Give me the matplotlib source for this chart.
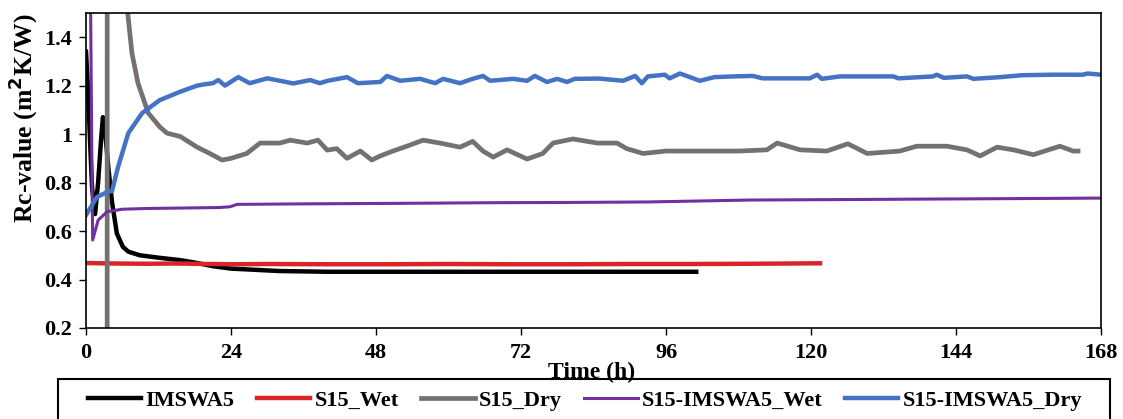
import numpy as np
import matplotlib.pyplot as plt
from matplotlib.patches import Rectangle

plt.rcParams['font.family'] = ['Liberation Serif', 'DejaVu Serif']
plt.rcParams['font.weight'] = 'bold'

### Données (temps en h, Rc en m2K/W)
t_imswa5 = [0, 0.3, 0.7, 1.0, 1.5, 2.0, 2.5, 2.8, 3.2, 3.7, 4.3, 5.1, 6.1, 7.0, 8.9, 12, 15.6, 18, 21, 24,
            28, 32, 40, 50, 60, 70, 80, 90, 101]
rc_imswa5 = [1.34, 1.2, 0.95, 0.78, 0.67, 0.80, 0.98, 1.07, 1.0, 0.86, 0.72, 0.59, 0.535, 0.515, 0.50, 0.49,
             0.48, 0.47, 0.455, 0.445, 0.44, 0.435, 0.432, 0.432, 0.432, 0.432, 0.432, 0.432, 0.432]

t_s15wet = [0, 5, 10, 15, 20, 25, 30, 40, 50, 60, 70, 80, 90, 100, 110, 116, 121.5]
rc_s15wet = [0.468, 0.466, 0.465, 0.466, 0.464, 0.463, 0.464, 0.463, 0.463, 0.464, 0.463, 0.463, 0.464,
             0.464, 0.465, 0.466, 0.467]

t_s15dry = [3.5, 3.52, 6.6, 6.9, 7.6, 8.6, 10.3, 12.2, 13.4, 15.6, 18.4, 20.5, 22.5, 24, 26.6, 28.8, 32.1,
            33.8, 36.6, 38.4, 39.9, 41.5, 43.2, 45.4, 47.3, 48.7, 50.8, 53.1, 55.8, 58.6, 61.9, 64, 65.7,
            67.4, 69.7, 73, 75.6, 77.3, 80.6, 84.6, 87.9, 89.5, 92.2, 96, 102, 108, 112.7, 114.4, 118.2,
            122.6, 126.1, 129.3, 134.7, 137.5, 142.5, 145.8, 148, 150.8, 153.5, 156.8, 161.2, 163.4, 164.2]
rc_s15dry = [0.0, 5.0, 1.6, 1.5, 1.334, 1.21, 1.087, 1.03, 1.004, 0.99, 0.946, 0.92, 0.893, 0.90, 0.92,
             0.963, 0.963, 0.975, 0.963, 0.975, 0.934, 0.94, 0.90, 0.93, 0.893, 0.91, 0.93, 0.95, 0.975,
             0.963, 0.946, 0.97, 0.93, 0.905, 0.935, 0.897, 0.92, 0.963, 0.98, 0.963, 0.963, 0.94, 0.92,
             0.93, 0.93, 0.93, 0.935, 0.963, 0.935, 0.93, 0.96, 0.92, 0.93, 0.95, 0.95, 0.935, 0.91, 0.946,
             0.935, 0.915, 0.95, 0.93, 0.93]

t_wet = [0.6, 1.0, 1.1, 2.0, 3.5, 6, 10, 16, 22, 23.8, 25, 35, 50, 68, 80, 93, 110, 126, 140, 155, 168]
rc_wet = [2.0, 0.80, 0.563, 0.645, 0.68, 0.69, 0.693, 0.695, 0.697, 0.70, 0.71, 0.712, 0.714, 0.717, 0.718,
          0.720, 0.728, 0.730, 0.732, 0.734, 0.736]

t_dry = [0, 1.8, 3.5, 4.3, 5.3, 7.0, 9.3, 12.2, 15.6, 18.4, 19.5, 21, 21.9, 23, 25.2, 27.1, 30, 32.1,
         34.3, 37.1, 38.7, 40, 43.2, 45, 48.7, 49.8, 52, 55.3, 57.8, 59.1, 61.9, 64, 65.7, 66.9, 70.7, 73,
         74.3, 76.3, 78, 79.6, 80.9, 85, 88.9, 90.9, 92, 93, 95.8, 96.6, 98.3, 101.6, 104, 107.1, 110.4,
         112, 115, 119.8, 121, 121.8, 124.8, 133.6, 134.5, 140.2, 140.8, 142, 145.8, 146.9, 151.3, 155,
         160, 165, 165.8, 168]
rc_dry = [0.666, 0.74, 0.761, 0.765, 0.864, 1.004, 1.087, 1.14, 1.175, 1.20, 1.205, 1.21, 1.223, 1.20,
          1.235, 1.21, 1.23, 1.22, 1.209, 1.223, 1.21, 1.22, 1.235, 1.21, 1.215, 1.24, 1.22, 1.228, 1.21,
          1.228, 1.21, 1.228, 1.24, 1.22, 1.228, 1.22, 1.24, 1.215, 1.228, 1.215, 1.228, 1.229, 1.22, 1.24,
          1.21, 1.238, 1.245, 1.23, 1.25, 1.22, 1.235, 1.238, 1.24, 1.23, 1.23, 1.23, 1.245, 1.228, 1.238,
          1.238, 1.23, 1.238, 1.245, 1.232, 1.238, 1.228, 1.235, 1.243, 1.245, 1.245, 1.25, 1.245]

series = [
    ("IMSWA5", t_imswa5, rc_imswa5, "#000000", 3.2),
    ("S15_Wet", t_s15wet, rc_s15wet, "#DA2527", 3.2),
    ("S15_Dry", t_s15dry, rc_s15dry, "#767171", 3.4),
    ("S15-IMSWA5_Wet", t_wet, rc_wet, "#7030A0", 2.2),
    ("S15-IMSWA5_Dry", t_dry, rc_dry, "#4472C4", 3.2),
]

fig = plt.figure(figsize=(11.23, 4.19), dpi=100)
ax = fig.add_axes([0.0766, 0.2172, 0.9038, 0.752])

for nom, t, rc, c, lw in series:
    ax.plot(t, rc, color=c, lw=lw, label=nom, solid_joinstyle='round')

ax.set_xlim(0, 168)
ax.set_ylim(0.2, 1.5)
ax.set_xticks(np.arange(0, 169, 24))
ax.set_yticks([0.2, 0.4, 0.6, 0.8, 1.0, 1.2, 1.4])
ax.set_yticklabels(["0.2", "0.4", "0.6", "0.8", "1", "1.2", "1.4"])
ax.tick_params(direction='out', length=5, width=1, labelsize=16)
ax.tick_params(axis='x', pad=6)
ax.tick_params(axis='y', pad=5)
for lab in ax.get_xticklabels() + ax.get_yticklabels():
    lab.set_fontweight('bold')
for s in ax.spines.values():
    s.set_linewidth(1.2)

ax.set_ylabel("Rc-value (m$^\\mathbf{2}$K/W)", fontsize=18.5, fontweight='bold')
ax.yaxis.set_label_coords(-0.045, 0.667)
ax.set_xlabel("Time (h)", fontsize=17, fontweight='bold')
ax.xaxis.set_label_coords(0.498, -0.108)

### Cadre de la légende
fig.patches.append(Rectangle((58 / 1123, -0.05), 1052 / 1123, 0.05 + 40 / 419, transform=fig.transFigure,
                             fill=False, edgecolor='black', lw=1.5))
leg = fig.legend(loc='center', bbox_to_anchor=(0.521, 0.043), ncol=5, fontsize=16, handlelength=2.4,
                 handletextpad=0.2, columnspacing=1.0, frameon=False, borderaxespad=0)
for txt in leg.get_texts():
    txt.set_fontweight('bold')

plt.savefig("out.png", dpi=100)
